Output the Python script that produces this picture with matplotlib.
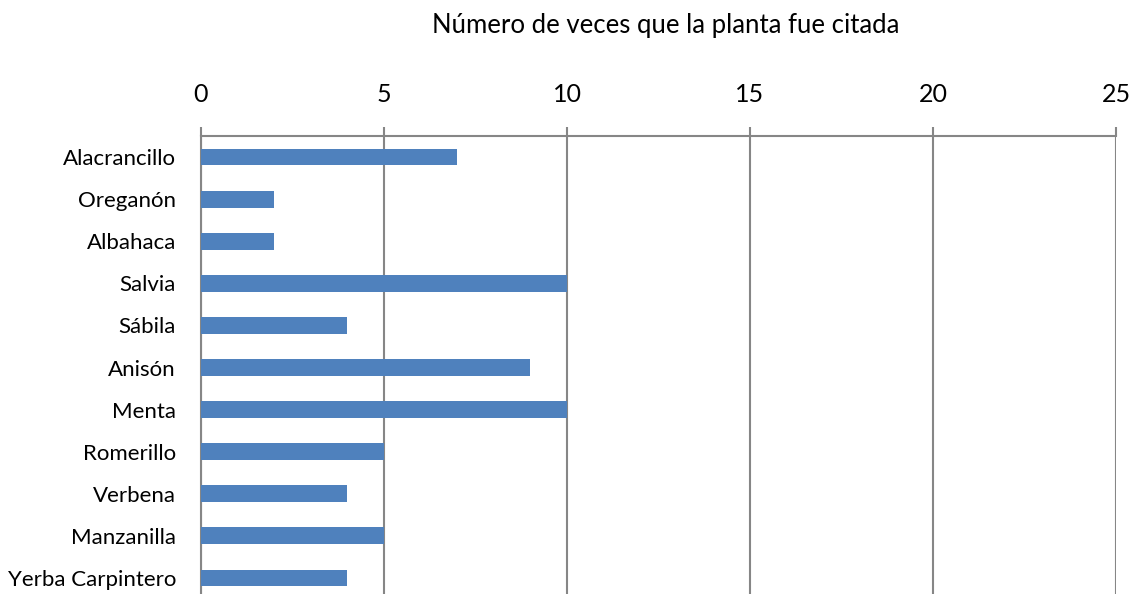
import matplotlib.pyplot as plt
import numpy as np

plantas = ['Alacrancillo', 'Oreganón', 'Albahaca', 'Salvia', 'Sábila', 'Anisón',
           'Menta', 'Romerillo', 'Verbena', 'Manzanilla', 'Yerba Carpintero']
citas = [7, 2, 2, 10, 4, 9, 10, 5, 4, 5, 4]
xticks = [0, 5, 10, 15, 20, 25]

plt.rcParams['font.family'] = ['Lato', 'DejaVu Sans']

fig = plt.figure(figsize=(11.31, 5.94), dpi=100)
ax = fig.add_axes([201/1131, 0.0, (1116-201)/1131, 1 - 136/594])

pos = np.arange(len(plantas))
ax.barh(pos, citas, height=0.4, color='#4F81BD', zorder=3)

ax.set_xlim(0, 25)
ax.set_ylim(10.38, -0.5)
ax.set_yticks(pos)
ax.set_yticklabels(plantas, fontsize=16)
ax.set_xticks(xticks)
ax.xaxis.tick_top()
ax.xaxis.set_label_position('top')
ax.tick_params(axis='x', length=6.5, width=1.5, color='#868686', labelsize=18, pad=15)
ax.tick_params(axis='y', length=0, pad=18)

ax.grid(axis='x', color='#868686', linewidth=1.5, zorder=0)
for s in ['right', 'bottom']:
    ax.spines[s].set_visible(False)
ax.spines['top'].set_color('#868686')
ax.spines['top'].set_linewidth(1.5)
ax.spines['left'].set_color('#868686')
ax.spines['left'].set_linewidth(1.5)

ax.set_xlabel('Número de veces que la planta fue citada', fontsize=18.5)
ax.xaxis.set_label_coords(0.508, 1 + (136 - 33) / 458)

fig.savefig('out.png', dpi=100)
